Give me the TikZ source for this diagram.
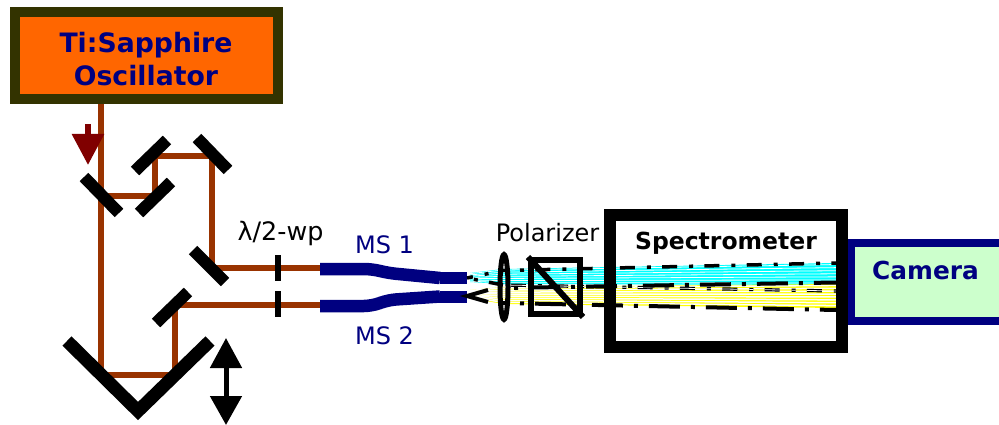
\documentclass[tikz,border=0pt]{standalone}
\usepackage{fontspec}
\setmainfont{DejaVu Sans}
\usetikzlibrary{positioning, calc, arrows.meta, shapes.geometric}
\definecolor{beam}{RGB}{153,51,0}
\definecolor{navy}{RGB}{0,0,128}
\definecolor{darkred}{RGB}{128,0,0}
\definecolor{olive}{RGB}{51,51,0}
\definecolor{laser}{RGB}{255,102,0}
\definecolor{pale}{RGB}{204,255,204}
\definecolor{specblue}{RGB}{0,255,255}
\definecolor{specyellow}{RGB}{255,255,0}
\tikzstyle{ray}=[beam, line width=5.5pt]
\tikzstyle{mirror}=[black, line width=12pt]
\tikzstyle{wplate}=[black, line width=5.5pt]
\tikzstyle{fiber}=[navy, line width=12.5pt, rounded corners=8pt]
\tikzstyle{lbl}=[inner sep=0pt, font=\fontsize{24}{24}\selectfont]
\tikzstyle{ttl}=[inner sep=0pt, font=\fontsize{26.7}{33}\bfseries\selectfont, align=center]
\tikzstyle{shortdash}=[black, line width=3.5pt, dash pattern=on 15pt off 12pt on 4pt off 11.3pt]
\tikzstyle{longdash}=[black, line width=4pt, dash pattern=on 31pt off 11pt on 4pt off 11pt]

\begin{document}
\begin{tikzpicture}[x=1pt, y=-1pt]
  \useasboundingbox (0,0) rectangle (999,425);

  % Oscillator and the main beam path
  \node[draw=olive, fill=laser, line width=10pt, minimum width=263pt, minimum height=87pt,
        inner sep=0pt] (osc) at (146.5,55.5) {};
  \node[ttl, text=navy] (osctxt) at (146,59) {Ti:Sapphire\\Oscillator};

  \coordinate (b1) at (101,104);
  \coordinate (b2) at (101,375);
  \coordinate (b3) at (175,375);
  \coordinate (b4) at (175,305);
  \coordinate (b5) at (320,305);
  \coordinate (b6) at (101,196);
  \coordinate (b7) at (155,196);
  \coordinate (b8) at (155,156);
  \coordinate (b9) at (212,156);
  \coordinate (b10) at (212,268);
  \coordinate (b11) at (320,268);
  \draw[ray] (b1) -- (b2) -- (b3) -- (b4) -- (b5);
  \draw[ray] (b6) -- (b7) -- (b8) -- (b9) -- (b10) -- (b11);

  % Mirrors
  \foreach \xa/\ya/\xb/\yb in {84/177/119/213, 135/171/167/140, 139/213/171/182,
                               197/138/228/170, 193/250/225/282, 156/323/188/292}
    \draw[mirror] (\xa,\ya) -- (\xb,\yb);
  \coordinate (v1) at (67,341);
  \coordinate (v2) at (138,411);
  \coordinate (v3) at (210,341);
  \draw[mirror, line width=13pt] (v1) -- (v2) -- (v3);

  % Arrows
  \coordinate (a1) at (88,124);
  \coordinate (a2) at (88,165);
  \draw[darkred, line width=6pt, -{Triangle[width=31pt, length=31pt]}] (a1) -- (a2);
  \coordinate (m1) at (226,338);
  \coordinate (m2) at (226,425);
  \draw[black, line width=5pt, {Triangle[width=31pt, length=30pt]}-{Triangle[width=31pt, length=29pt]}] (m1) -- (m2);

  % Wave plates
  \coordinate (w1) at (278,255);
  \coordinate (w2) at (278,281);
  \coordinate (w3) at (278,291);
  \coordinate (w4) at (278,317);
  \draw[wplate] (w1) -- (w2);
  \draw[wplate] (w3) -- (w4);
  \node[lbl, font=\fontsize{25.4}{25}\selectfont] (wp) at (280.5,233) {λ/2-wp};

  % Fibers
  \draw[fiber] (320,269) -- (372,269) -- (388,273) -- (440,278);
  \draw[fiber] (320,306) -- (372,306) -- (388,300) -- (440,296.5);
  \draw[navy, line width=12pt] (440.3,278) -- (467,278);
  \draw[navy, line width=12pt] (440.3,296.5) -- (467,296.5);
  \node[lbl, text=navy] (ms1) at (384.5,245) {MS 1};
  \node[lbl, text=navy] (ms2) at (384.5,336) {MS 2};

  % Camera and spectrometer
  \node[draw=navy, fill=pale, line width=8pt, minimum width=170pt, minimum height=78pt, anchor=west,
        inner sep=0pt] (cam) at (847,282) {};
  \node[ttl, text=navy, font=\fontsize{24.8}{25}\bfseries\selectfont] (camtxt) at (925.5,270) {Camera};
  \node[fill=white, minimum width=232pt, minimum height=132pt, inner sep=0pt] (spec) at (726,281) {};
  \node[ttl, text=black, font=\fontsize{23.5}{24}\bfseries\selectfont] (spectxt) at (726,243) {Spectrometer};

  % Spectra
  \coordinate (c1) at (470,273);
  \coordinate (c2) at (503,269);
  \coordinate (c3) at (836,263);
  \coordinate (c4) at (836,285);
  \coordinate (c5) at (503,284);
  \coordinate (c6) at (470,282);
  \coordinate (y1) at (470,290);
  \coordinate (y2) at (503,287);
  \coordinate (y3) at (836,284);
  \coordinate (y4) at (836,308);
  \coordinate (y5) at (503,304);
  \coordinate (y6) at (470,298);
  \fill[specblue] (c1) -- (c2) -- (c3) -- (c4) -- (c5) -- (c6) -- cycle;
  \fill[specyellow] (y1) -- (y2) -- (y3) -- (y4) -- (y5) -- (y6) -- cycle;
  \foreach \t in {0.07,0.21,...,1}
    \draw[white, line width=.8pt] ($(c1)!\t!(c6)$) -- ($(c2)!\t!(c5)$) -- ($(c3)!\t!(c4)$);
  \foreach \t in {0.06,0.18,...,1}
    \draw[white, line width=1.5pt] ($(y1)!\t!(y6)$) -- ($(y2)!\t!(y5)$) -- ($(y3)!\t!(y4)$);

  % Rays through the lens
  \coordinate (f1) at (467,278);
  \coordinate (f2) at (467,296);
  \coordinate (l1) at (503,270.5);
  \coordinate (l2) at (503,285);
  \coordinate (l3) at (503,288);
  \coordinate (l4) at (503,303);
  \coordinate (e1) at (836,263);
  \coordinate (e2) at (836,291);
  \coordinate (e3) at (836,282.5);
  \coordinate (e4) at (836,310);
  \coordinate (s1) at (488,290);
  \coordinate (s2) at (488,302);
  \draw[shortdash, dash phase=9pt] (f1) -- (l1);
  \draw[shortdash, dash phase=10pt] (l1) -- (e1);
  \draw[shortdash, dash phase=20pt] (f1) -- (l2);
  \draw[shortdash, dash phase=34.5pt, line width=1.2pt, double=white, double distance=.8pt] (l2) -- (e2);
  \draw[black, line width=4pt] (s1) -- (f2) -- (s2);
  \draw[longdash, dash phase=31pt] (l3) -- (e3);
  \draw[longdash, dash phase=25pt] (l4) -- (e4);

  % Lens and polarizer
  \node[draw=black, line width=5pt, ellipse, minimum width=8pt, minimum height=65pt, inner sep=0pt] (lens) at (504,287) {};
  \node[draw=black, line width=6pt, minimum width=49pt, minimum height=54pt, inner sep=0pt] (pol) at (555.5,287) {};
  \draw[black, line width=6pt] (pol.north west) -- (pol.south east);
  \node[lbl] (poltxt) at (547.5,233) {Polarizer};

  % Spectrometer wall goes over the spectra
  \node[draw=black, line width=12pt, minimum width=232pt, minimum height=132pt, inner sep=0pt] (wall) at (726,281) {};
\end{tikzpicture}
\end{document}
